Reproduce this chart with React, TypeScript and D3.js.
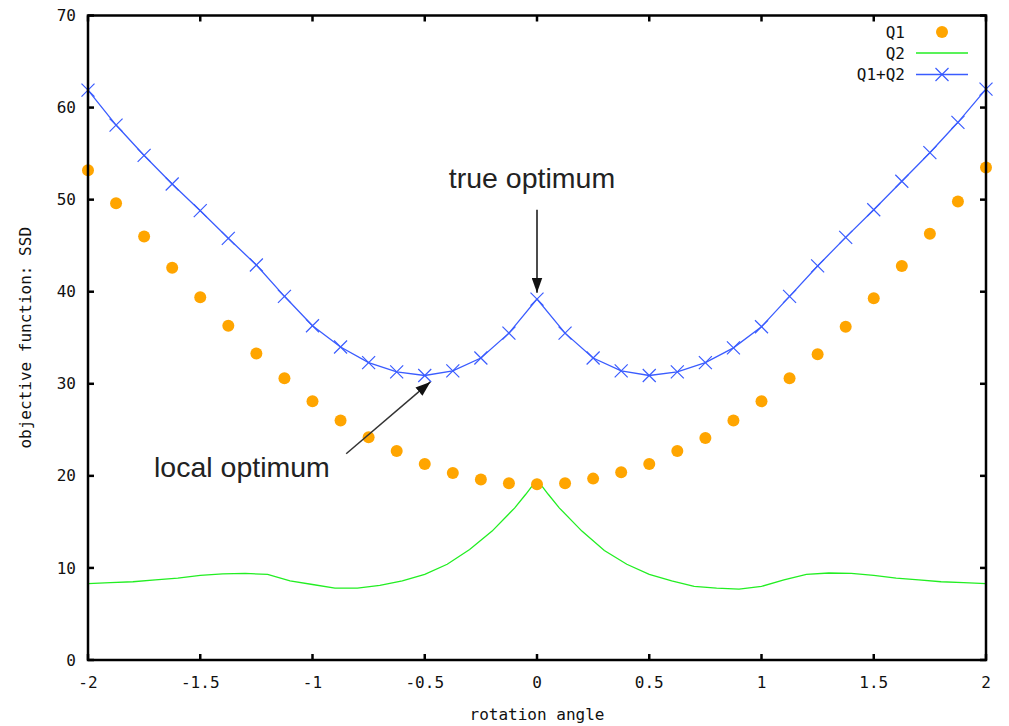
import React from 'react';
import * as d3 from 'd3';

// rotation angles where Q1 and Q1+Q2 were sampled
const angles = [-2, -1.875, -1.75, -1.625, -1.5, -1.375, -1.25, -1.125, -1, -0.875, -0.75, -0.625, -0.5, -0.375, -0.25, -0.125,
  0, 0.125, 0.25, 0.375, 0.5, 0.625, 0.75, 0.875, 1, 1.125, 1.25, 1.375, 1.5, 1.625, 1.75, 1.875, 2];
const q1 = [53.2, 49.6, 46.0, 42.6, 39.4, 36.3, 33.3, 30.6, 28.1, 26.0, 24.2, 22.7, 21.3, 20.3, 19.6, 19.2,
  19.1, 19.2, 19.7, 20.4, 21.3, 22.7, 24.1, 26.0, 28.1, 30.6, 33.2, 36.2, 39.3, 42.8, 46.3, 49.8, 53.5];
const q1q2 = [61.9, 58.1, 54.8, 51.7, 48.8, 45.8, 42.9, 39.5, 36.3, 34.0, 32.3, 31.3, 30.9, 31.4, 32.8, 35.5,
  39.2, 35.5, 32.8, 31.4, 30.9, 31.3, 32.3, 33.9, 36.2, 39.5, 42.8, 45.9, 48.9, 52.0, 55.1, 58.4, 62.0];

// Q2 is drawn as a finer line
const q2Angles = [-2, -1.9, -1.8, -1.7, -1.6, -1.5, -1.4, -1.3, -1.2, -1.1, -1, -0.9, -0.8, -0.7, -0.6, -0.5, -0.4, -0.3, -0.2, -0.1, -0.05,
  0, 0.05, 0.1, 0.2, 0.3, 0.4, 0.5, 0.6, 0.7, 0.8, 0.9, 1, 1.1, 1.2, 1.3, 1.4, 1.5, 1.6, 1.7, 1.8, 1.9, 2];
const q2 = [8.3, 8.4, 8.5, 8.7, 8.9, 9.2, 9.35, 9.4, 9.3, 8.6, 8.2, 7.8, 7.8, 8.1, 8.6, 9.3, 10.4, 12.0, 14.0, 16.5, 18.0,
  19.6, 18.0, 16.5, 14.0, 11.9, 10.4, 9.3, 8.6, 8.0, 7.8, 7.7, 8.0, 8.7, 9.3, 9.45, 9.4, 9.2, 8.9, 8.7, 8.5, 8.4, 8.3];

const xTicks = [-2, -1.5, -1, -0.5, 0, 0.5, 1, 1.5, 2];
const xTickLabels = ['-2', '-1.5', '-1', '-0.5', '0', '0.5', '1', '1.5', '2'];
const yTicks = [0, 10, 20, 30, 40, 50, 60, 70];

const W = 1009;
const H = 726;
const margin = { top: 15.5, right: 23, bottom: 66, left: 88 };
const mono = "'DejaVu Sans Mono', monospace";
const sans = "'Liberation Sans', Arial, sans-serif";
const orange = '#ffa500';
const green = '#22ee22';
const blue = '#3a5cff';

function Cross({ x, y, s = 6.5 }: { x: number; y: number; s?: number }) {
  return (
    <path d={`M${x - s},${y - s}L${x + s},${y + s}M${x - s},${y + s}L${x + s},${y - s}`}
      stroke={blue} strokeWidth={1.2} fill="none" />
  );
}

export default function App() {
  const x = d3.scaleLinear().domain([-2, 2]).range([margin.left, W - margin.right]);
  const y = d3.scaleLinear().domain([0, 70]).range([H - margin.bottom, margin.top]);
  const [x0, x1] = x.range();
  const [y0, y1] = y.range();

  const line = d3.line<[number, number]>().x((d) => x(d[0])).y((d) => y(d[1]));
  const q2Path = line(q2Angles.map((a, i) => [a, q2[i]] as [number, number])) || '';
  const sumPath = line(angles.map((a, i) => [a, q1q2[i]] as [number, number])) || '';

  const tl = 6;
  const legX = 905;
  const legL0 = 916;
  const legL1 = 968;

  return (
    <svg width={W} height={H} style={{ position: 'absolute', left: 0, top: 0, background: '#fff' }}>
      <defs>
        <marker id="head2" viewBox="0 0 14 10" refX="14" refY="5" markerWidth="15" markerHeight="11"
          markerUnits="userSpaceOnUse" orient="auto">
          <path d="M0,0L14,5L0,10z" fill="#111" />
        </marker>
      </defs>

      {/* Q2 */}
      <path d={q2Path} fill="none" stroke={green} strokeWidth={1.3} />

      {/* Q1 */}
      {angles.map((a, i) => (
        <circle key={'q1' + i} cx={x(a)} cy={y(q1[i])} r={6} fill={orange} />
      ))}

      {/* Q1+Q2 */}
      <path d={sumPath} fill="none" stroke={blue} strokeWidth={1.3} />
      {angles.map((a, i) => (
        <Cross key={'s' + i} x={x(a)} y={y(q1q2[i])} />
      ))}

      {/* frame and ticks */}
      <rect x={x0} y={y1} width={x1 - x0} height={y0 - y1} fill="none" stroke="#000" strokeWidth={2.5} />
      {yTicks.map((t) => (
        <g key={'y' + t}>
          <line x1={x0} x2={x0 + tl} y1={y(t)} y2={y(t)} stroke="#000" strokeWidth={2.5} />
          <line x1={x1} x2={x1 - tl} y1={y(t)} y2={y(t)} stroke="#000" strokeWidth={2.5} />
          <text x={x0 - 12} y={y(t)} dy="0.35em" textAnchor="end" fontFamily={mono} fontSize={16} fill="#111">{t}</text>
        </g>
      ))}
      {xTicks.map((t, i) => (
        <g key={'x' + t}>
          <line x1={x(t)} x2={x(t)} y1={y0} y2={y0 - tl} stroke="#000" strokeWidth={2.5} />
          <line x1={x(t)} x2={x(t)} y1={y1} y2={y1 + tl} stroke="#000" strokeWidth={2.5} />
          <text x={x(t)} y={y0 + 22} dy="0.35em" textAnchor="middle" fontFamily={mono} fontSize={16} fill="#111">{xTickLabels[i]}</text>
        </g>
      ))}

      {/* axis titles */}
      <text x={(x0 + x1) / 2} y={H - 12} dy="0.35em" textAnchor="middle" fontFamily={mono} fontSize={16} fill="#111">rotation angle</text>
      <text transform={`translate(25,${(y0 + y1) / 2}) rotate(-90)`} dy="0.35em" textAnchor="middle"
        fontFamily={mono} fontSize={16} fill="#111">objective function: SSD</text>

      {/* legend */}
      <text x={legX} y={32} dy="0.35em" textAnchor="end" fontFamily={mono} fontSize={16} fill="#111">Q1</text>
      <circle cx={(legL0 + legL1) / 2} cy={32} r={6} fill={orange} />
      <text x={legX} y={53} dy="0.35em" textAnchor="end" fontFamily={mono} fontSize={16} fill="#111">Q2</text>
      <line x1={legL0} x2={legL1} y1={53} y2={53} stroke={green} strokeWidth={1.3} />
      <text x={legX} y={74.5} dy="0.35em" textAnchor="end" fontFamily={mono} fontSize={16} fill="#111">Q1+Q2</text>
      <line x1={legL0} x2={legL1} y1={74.5} y2={74.5} stroke={blue} strokeWidth={1.3} />
      <Cross x={(legL0 + legL1) / 2} y={74.5} />

      {/* annotations */}
      <text x={x(0) - 5} y={188} textAnchor="middle" fontFamily={sans} fontSize={28.5} fill="#222">true optimum</text>
      <line x1={x(0)} x2={x(0)} y1={y(48.9)} y2={y(39.9)} stroke="#111" strokeWidth={1.5} markerEnd="url(#head2)" />
      <text x={154} y={477} fontFamily={sans} fontSize={28.5} fill="#222">local optimum</text>
      <line x1={x(-0.85)} x2={x(-0.475)} y1={y(22.4)} y2={y(30.2)} stroke="#333" strokeWidth={1.5} markerEnd="url(#head2)" />
    </svg>
  );
}
